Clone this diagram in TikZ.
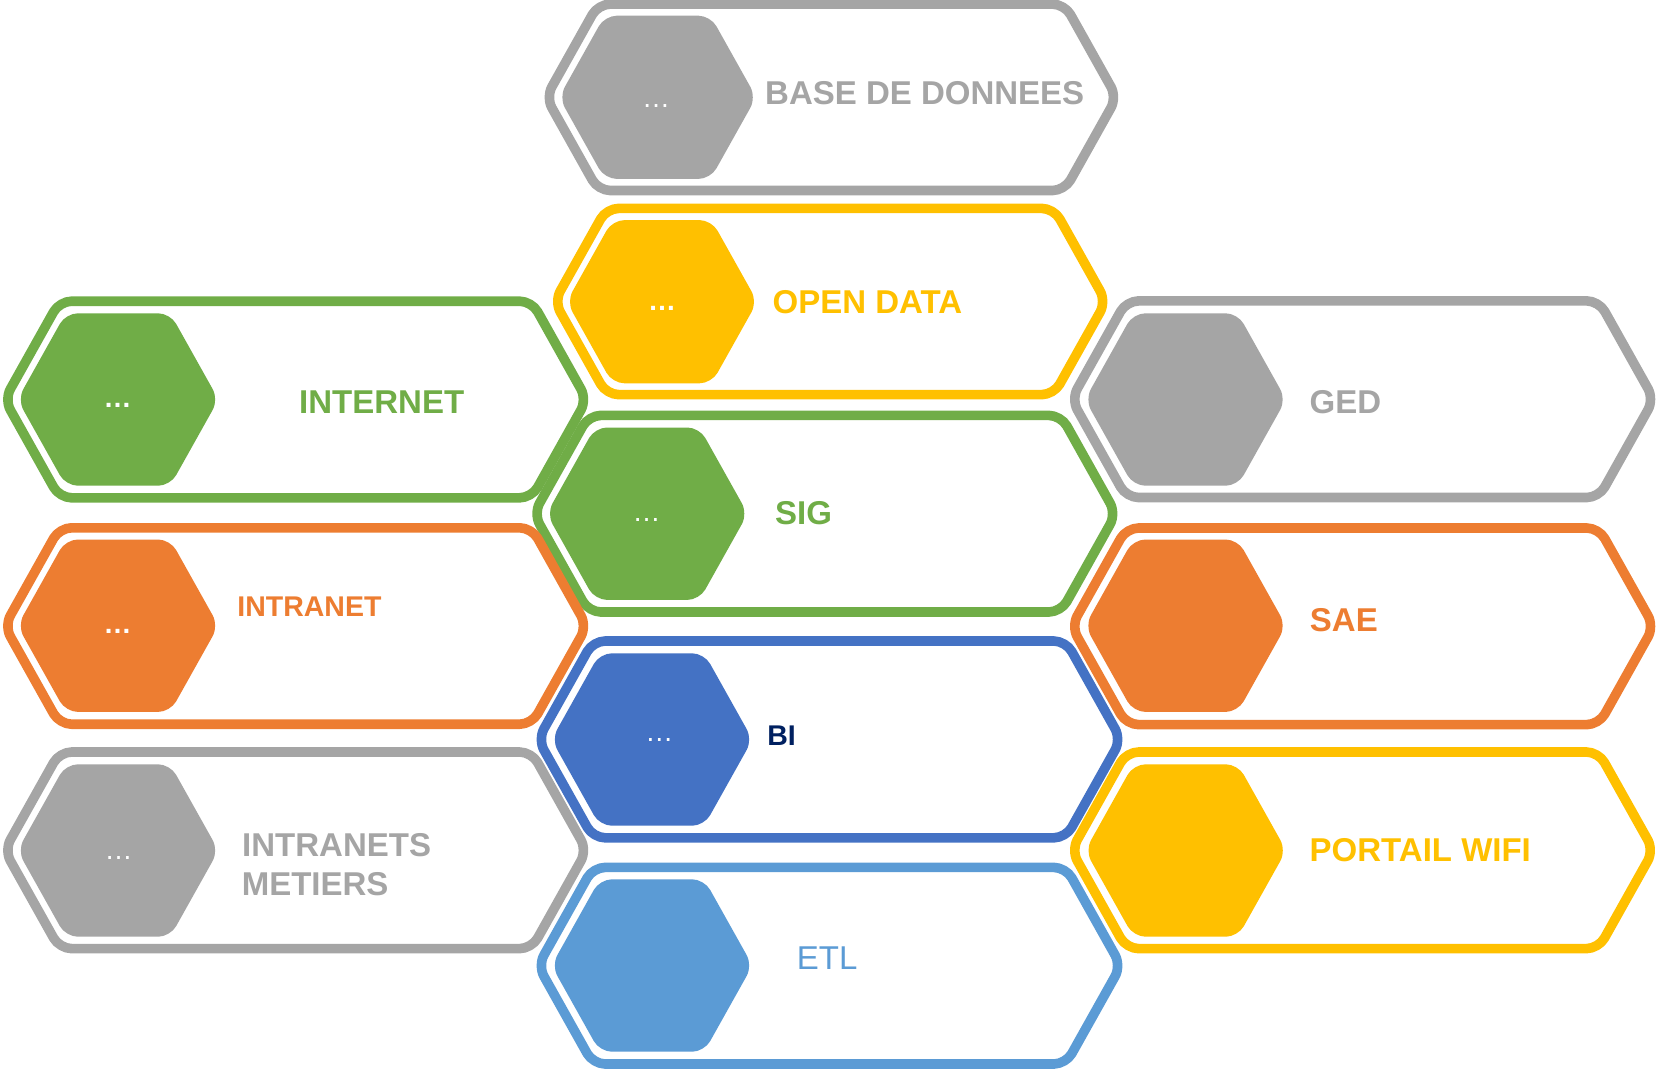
\documentclass[tikz,border=0pt]{standalone}
\usepackage{fontspec}
\setmainfont{Liberation Sans}
\definecolor{cgray}{HTML}{A5A5A5}
\definecolor{cyellow}{HTML}{FFC000}
\definecolor{cgreen}{HTML}{70AD47}
\definecolor{corange}{HTML}{ED7D31}
\definecolor{cblue}{HTML}{4472C4}
\definecolor{clblue}{HTML}{5B9BD5}
\definecolor{cnavy}{HTML}{002060}
% outer frame: colour, left tip x, right tip x, centre y, half height
\newcommand\outerhex[5]{%
  \draw[frame, draw=#1] ({(#2+#3)/2},{#4-#5}) -- ({#3-0.56*#5},{#4-#5}) -- (#3,#4)
    -- ({#3-0.56*#5},{#4+#5}) -- ({#2+0.56*#5},{#4+#5}) -- (#2,#4)
    -- ({#2+0.56*#5},{#4-#5}) -- cycle;}
% inner badge: colour, centre x, centre y, half width, half height
\newcommand\innerhex[5]{%
  \fill[badge, fill=#1] (#2,{#3-#5}) -- ({#2+#4-0.56*#5},{#3-#5}) -- ({#2+#4},#3)
    -- ({#2+#4-0.56*#5},{#3+#5}) -- ({#2-#4+0.56*#5},{#3+#5}) -- ({#2-#4},#3)
    -- ({#2-#4+0.56*#5},{#3-#5}) -- cycle;}
\tikzset{
  frame/.style={line width=9.6pt, fill=white, rounded corners=12pt, line join=round},
  badge/.style={rounded corners=12pt},
  lbl/.style={anchor=base west, inner sep=0pt, font=\bfseries\fontsize{33}{39}\selectfont},
  lblsmall/.style={anchor=base west, inner sep=0pt, font=\bfseries\fontsize{28.5}{34}\selectfont},
  lblreg/.style={anchor=base west, inner sep=0pt, font=\fontsize{33}{39}\selectfont},
  dotsb/.style={anchor=base, inner sep=0pt, text=white, font=\bfseries\fontsize{28}{30}\selectfont},
  dotsr/.style={anchor=base, inner sep=0pt, text=white, font=\fontsize{28}{30}\selectfont},
}
\begin{document}
\begin{tikzpicture}[x=1pt, y=-1pt]
\useasboundingbox (0,0) rectangle (1657,1069);
% middle column
\outerhex{cgray}{546}{1116.8}{97.3}{93.2}
\innerhex{cgray}{657.6}{97.3}{98.6}{81.6}
\outerhex{cyellow}{554.4}{1106}{301.5}{93.1}
\innerhex{cyellow}{662}{301.7}{95.3}{81.6}
\outerhex{cgreen}{533.7}{1116}{513.7}{98.3}
\innerhex{cgreen}{647.2}{513.7}{100.5}{86.2}
\outerhex{cblue}{538}{1121}{739.4}{98.4}
\innerhex{cblue}{652}{739.5}{100.5}{86.2}
\outerhex{clblue}{538}{1121}{965.7}{98.3}
\innerhex{clblue}{652}{965.5}{100.5}{86.2}
% left column
\outerhex{cgreen}{4.5}{586.8}{399.5}{98.3}
\innerhex{cgreen}{118}{399.5}{100.5}{86.2}
\outerhex{corange}{4.5}{586.8}{626}{98.2}
\innerhex{corange}{118}{625.7}{100.5}{86.2}
\outerhex{cgray}{4.5}{586.8}{850.3}{98.3}
\innerhex{cgray}{118}{850.5}{100.5}{86.2}
% right column
\outerhex{cgray}{1071.4}{1653.9}{399.2}{98.3}
\innerhex{cgray}{1185.5}{399.5}{100.5}{86.2}
\outerhex{corange}{1071.4}{1653.9}{626.3}{98.3}
\innerhex{corange}{1185.5}{625.7}{100.5}{86.2}
\outerhex{cyellow}{1071.4}{1653.6}{850.3}{98.3}
\innerhex{cyellow}{1185.7}{850.5}{100.5}{86.2}
% labels
\node[lbl, text=cgray] (tbase) at (765,104.3) {BASE DE DONNEES};
\node[lbl, text=cyellow] (topen) at (772.5,313.3) {OPEN DATA};
\node[lbl, text=cgreen] (tinternet) at (299,413.3) {INTERNET};
\node[lbl, text=cgray] (tged) at (1309.5,413.3) {GED};
\node[lbl, text=cgreen] (tsig) at (775,524.3) {SIG};
\node[lblsmall, text=corange] (tintranet) at (237.2,616) {INTRANET};
\node[lbl, text=corange] (tsae) at (1309.7,631) {SAE};
\node[lblsmall, text=cnavy] (tbi) at (767.2,745) {BI};
\node[lbl, text=cgray] (tintra1) at (242,856.7) {INTRANETS};
\node[lbl, text=cgray] (tintra2) at (241.6,895.7) {METIERS};
\node[lbl, text=cyellow] (tportail) at (1309.5,861) {PORTAIL WIFI};
\node[lblreg, text=clblue] (tetl) at (796.7,969.3) {ETL};
% dots
\node[dotsr] (dbase) at (656,107.5) {…};
\node[dotsb] (dopen) at (662,310) {…};
\node[dotsb] (dinternet) at (117.5,407) {…};
\node[dotsr] (dsig) at (646.5,521.5) {…};
\node[dotsb] (dintranet) at (117.5,633) {…};
\node[dotsr] (dbi) at (659.3,741) {…};
\node[dotsr] (dintra) at (118.5,859.5) {…};
\end{tikzpicture}
\end{document}
